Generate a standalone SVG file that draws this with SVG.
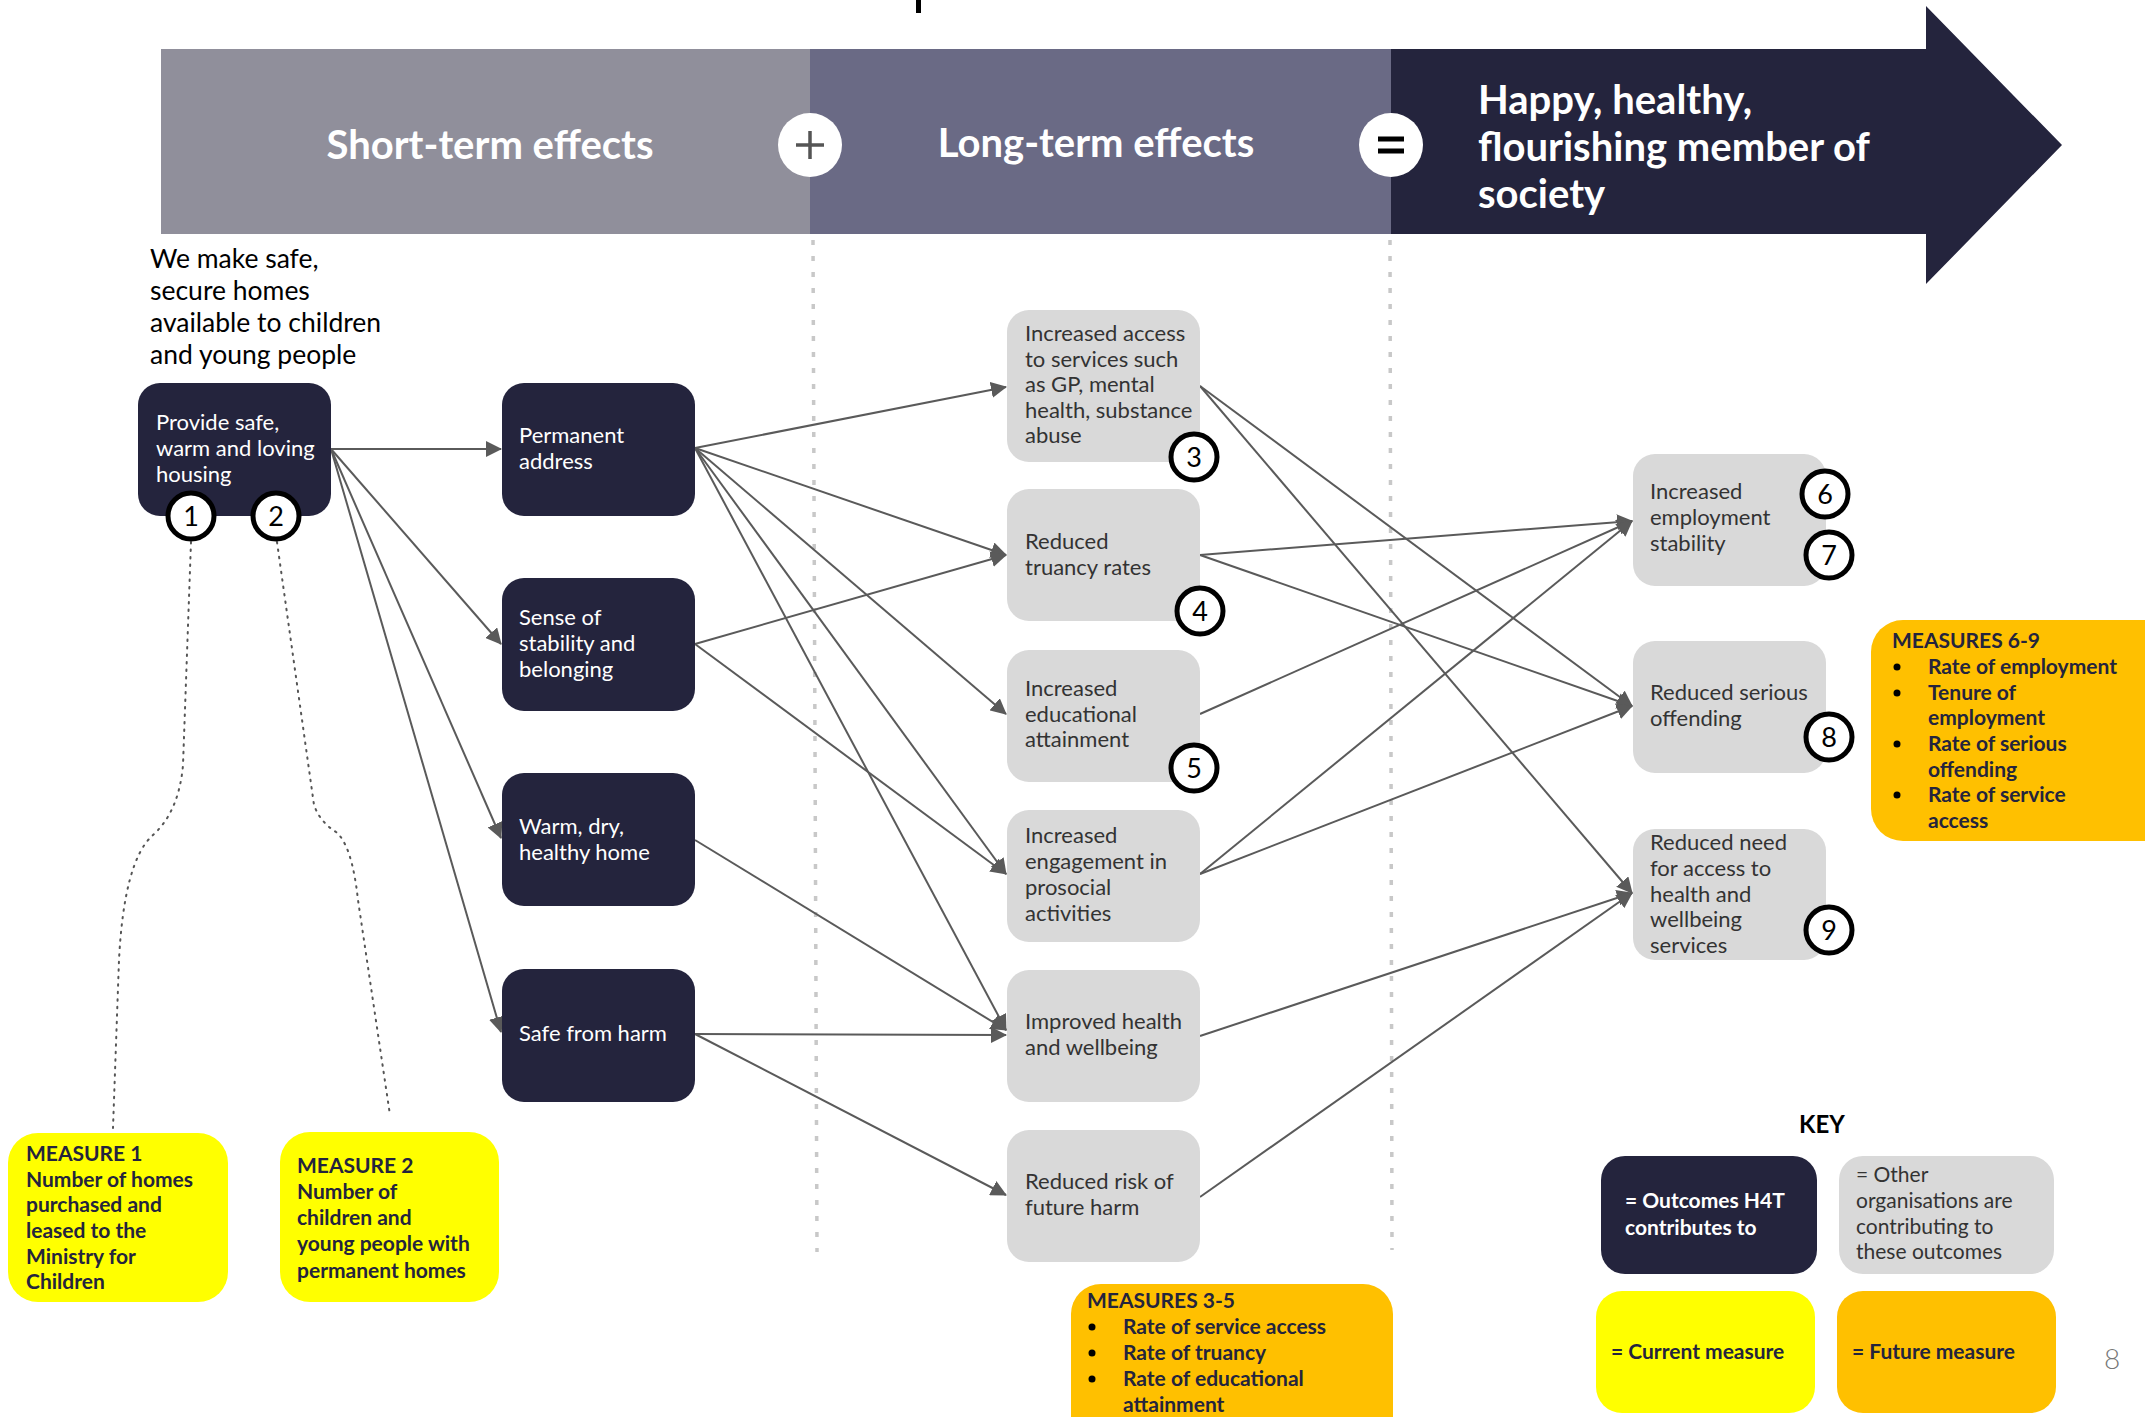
<svg xmlns="http://www.w3.org/2000/svg" width="2145" height="1417" viewBox="0 0 2145 1417">
<style>
.dk{fill:#24243d}
.gr{fill:#d9d9d9}
.ye{fill:#ffff00}
.or{fill:#ffc000}
.t{font-family:Lato,"Liberation Sans",sans-serif;font-size:22px}
.tw{fill:#ffffff}
.tg{fill:#333333}
.tb{font-family:Lato,"Liberation Sans",sans-serif;font-size:21px;font-weight:bold;fill:#24243d}
.hd{font-family:Lato,"Liberation Sans",sans-serif;font-size:40px;font-weight:bold;fill:#ffffff}
.num{font-family:Lato,"Liberation Sans",sans-serif;font-size:27px;fill:#000000;text-anchor:middle}
.nc{fill:#ffffff;stroke:#000000;stroke-width:5}
.cn{fill:none;stroke:#5a5a5a;stroke-width:2;marker-end:url(#ah)}
.sep{fill:none;stroke:#c8c8c8;stroke-width:3.5;stroke-dasharray:5 11}
.dot{fill:none;stroke:#555555;stroke-width:2;stroke-dasharray:1.5 6;stroke-linecap:round}
.bul{fill:#000000}
.intro{font-family:Lato,"Liberation Sans",sans-serif;font-size:26.5px;fill:#000000}
</style>
<defs>
<marker id="ah" markerUnits="userSpaceOnUse" markerWidth="16" markerHeight="16" viewBox="0 0 16 16" refX="15" refY="8" orient="auto">
<path d="M0,0 L16,8 L0,16 z" fill="#5a5a5a"/>
</marker>
</defs>
<rect x="0" y="0" width="2145" height="1417" fill="#ffffff"/>
<rect x="916" y="0" width="5" height="13" fill="#000000"/>

<g id="banner">
<rect x="161" y="49" width="650" height="185" fill="#908f9b"/>
<rect x="810" y="49" width="582" height="185" fill="#6a6a85"/>
<path d="M1391,49 L1926,49 L1926,6 L2062,145 L1926,284 L1926,234 L1391,234 z" fill="#24243d"/>
<text class="hd" x="490" y="159" text-anchor="middle">Short-term effects</text>
<text class="hd" x="1096" y="157" text-anchor="middle">Long-term effects</text>
<text class="hd" x="1478" y="114">Happy, healthy,</text>
<text class="hd" x="1478" y="161">flourishing member of</text>
<text class="hd" x="1478" y="208">society</text>
<circle cx="810" cy="145" r="32" fill="#ffffff"/>
<path d="M796,145 H824 M810,131 V159" stroke="#555555" stroke-width="3.5"/>
<circle cx="1391" cy="145" r="32" fill="#ffffff"/>
<path d="M1378,139 H1404 M1378,151 H1404" stroke="#000000" stroke-width="5"/>
</g>

<g id="separators">
<path class="sep" d="M813,240 L817,1252"/>
<path class="sep" d="M1390,240 L1392,1250"/>
</g>

<g id="intro">
<text class="intro" x="150" y="268">We make safe,</text>
<text class="intro" x="150" y="300">secure homes</text>
<text class="intro" x="150" y="332">available to children</text>
<text class="intro" x="150" y="364">and young people</text>
</g>

<g id="connectors">
<path class="dot" d="M191,542 L183,765 Q179,812 152,836 Q124,862 119,960 L113,1128"/>
<path class="dot" d="M277,542 L314,805 Q320,822 336,832 Q352,845 358,900 L390,1115"/>
<line class="cn" x1="331" y1="449" x2="501" y2="449"/>
<line class="cn" x1="331" y1="449" x2="501" y2="644"/>
<line class="cn" x1="331" y1="449" x2="501" y2="838"/>
<line class="cn" x1="331" y1="449" x2="501" y2="1032"/>
<line class="cn" x1="695" y1="448" x2="1006" y2="387"/>
<line class="cn" x1="695" y1="448" x2="1006" y2="555"/>
<line class="cn" x1="695" y1="448" x2="1006" y2="714"/>
<line class="cn" x1="695" y1="448" x2="1006" y2="874"/>
<line class="cn" x1="695" y1="448" x2="1006" y2="1030"/>
<line class="cn" x1="695" y1="644" x2="1006" y2="555"/>
<line class="cn" x1="695" y1="644" x2="1006" y2="874"/>
<line class="cn" x1="695" y1="840" x2="1006" y2="1030"/>
<line class="cn" x1="695" y1="1034" x2="1006" y2="1035"/>
<line class="cn" x1="695" y1="1034" x2="1006" y2="1195"/>
<line class="cn" x1="1200" y1="386" x2="1632" y2="706"/>
<line class="cn" x1="1200" y1="386" x2="1632" y2="893"/>
<line class="cn" x1="1200" y1="555" x2="1632" y2="521"/>
<line class="cn" x1="1200" y1="555" x2="1632" y2="706"/>
<line class="cn" x1="1200" y1="714" x2="1632" y2="521"/>
<line class="cn" x1="1200" y1="874" x2="1632" y2="521"/>
<line class="cn" x1="1200" y1="874" x2="1632" y2="706"/>
<line class="cn" x1="1200" y1="1036" x2="1632" y2="893"/>
<line class="cn" x1="1200" y1="1197" x2="1632" y2="893"/>
</g>

<g id="provide">
<rect class="dk" x="138" y="383" width="193" height="133" rx="22"/>
<text class="t tw" x="156" y="430">Provide safe,</text>
<text class="t tw" x="156" y="456">warm and loving</text>
<text class="t tw" x="156" y="482">housing</text>
<circle class="nc" cx="191" cy="516" r="23"/>
<text class="num" x="191" y="526">1</text>
<circle class="nc" cx="276" cy="516" r="23"/>
<text class="num" x="276" y="526">2</text>
</g>

<g id="permanent">
<rect class="dk" x="502" y="383" width="193" height="133" rx="22"/>
<text class="t tw" x="519" y="443">Permanent</text>
<text class="t tw" x="519" y="469">address</text>
</g>
<g id="sense">
<rect class="dk" x="502" y="578" width="193" height="133" rx="22"/>
<text class="t tw" x="519" y="625">Sense of</text>
<text class="t tw" x="519" y="651">stability and</text>
<text class="t tw" x="519" y="677">belonging</text>
</g>
<g id="warm">
<rect class="dk" x="502" y="773" width="193" height="133" rx="22"/>
<text class="t tw" x="519" y="834">Warm, dry,</text>
<text class="t tw" x="519" y="860">healthy home</text>
</g>
<g id="safe">
<rect class="dk" x="502" y="969" width="193" height="133" rx="22"/>
<text class="t tw" x="519" y="1041">Safe from harm</text>
</g>

<g id="access">
<rect class="gr" x="1007" y="310" width="193" height="152" rx="22"/>
<text class="t tg" x="1025" y="341">Increased access</text>
<text class="t tg" x="1025" y="367">to services such</text>
<text class="t tg" x="1025" y="392">as GP, mental</text>
<text class="t tg" x="1025" y="418">health, substance</text>
<text class="t tg" x="1025" y="443">abuse</text>
<circle class="nc" cx="1194" cy="457" r="23"/>
<text class="num" x="1194" y="467">3</text>
</g>
<g id="truancy">
<rect class="gr" x="1007" y="489" width="193" height="132" rx="22"/>
<text class="t tg" x="1025" y="549">Reduced</text>
<text class="t tg" x="1025" y="575">truancy rates</text>
<circle class="nc" cx="1200" cy="611" r="23"/>
<text class="num" x="1200" y="621">4</text>
</g>
<g id="educational">
<rect class="gr" x="1007" y="650" width="193" height="132" rx="22"/>
<text class="t tg" x="1025" y="696">Increased</text>
<text class="t tg" x="1025" y="722">educational</text>
<text class="t tg" x="1025" y="747">attainment</text>
<circle class="nc" cx="1194" cy="768" r="23"/>
<text class="num" x="1194" y="778">5</text>
</g>
<g id="engagement">
<rect class="gr" x="1007" y="810" width="193" height="132" rx="22"/>
<text class="t tg" x="1025" y="843">Increased</text>
<text class="t tg" x="1025" y="869">engagement in</text>
<text class="t tg" x="1025" y="895">prosocial</text>
<text class="t tg" x="1025" y="921">activities</text>
</g>
<g id="health">
<rect class="gr" x="1007" y="970" width="193" height="132" rx="22"/>
<text class="t tg" x="1025" y="1029">Improved health</text>
<text class="t tg" x="1025" y="1055">and wellbeing</text>
</g>
<g id="risk">
<rect class="gr" x="1007" y="1130" width="193" height="132" rx="22"/>
<text class="t tg" x="1025" y="1189">Reduced risk of</text>
<text class="t tg" x="1025" y="1215">future harm</text>
</g>

<g id="employment">
<rect class="gr" x="1633" y="454" width="193" height="132" rx="22"/>
<text class="t tg" x="1650" y="499">Increased</text>
<text class="t tg" x="1650" y="525">employment</text>
<text class="t tg" x="1650" y="551">stability</text>
<circle class="nc" cx="1825" cy="494" r="23"/>
<text class="num" x="1825" y="504">6</text>
<circle class="nc" cx="1829" cy="555" r="23"/>
<text class="num" x="1829" y="565">7</text>
</g>
<g id="offending">
<rect class="gr" x="1633" y="641" width="193" height="132" rx="22"/>
<text class="t tg" x="1650" y="700">Reduced serious</text>
<text class="t tg" x="1650" y="726">offending</text>
<circle class="nc" cx="1829" cy="737" r="23"/>
<text class="num" x="1829" y="747">8</text>
</g>
<g id="need">
<rect class="gr" x="1633" y="829" width="193" height="131" rx="22"/>
<text class="t tg" x="1650" y="850">Reduced need</text>
<text class="t tg" x="1650" y="876">for access to</text>
<text class="t tg" x="1650" y="902">health and</text>
<text class="t tg" x="1650" y="927">wellbeing</text>
<text class="t tg" x="1650" y="953">services</text>
<circle class="nc" cx="1829" cy="930" r="23"/>
<text class="num" x="1829" y="940">9</text>
</g>

<g id="measure1">
<rect class="ye" x="8" y="1133" width="220" height="169" rx="30"/>
<text class="tb" x="26" y="1161">MEASURE 1</text>
<text class="tb" x="26" y="1187">Number of homes</text>
<text class="tb" x="26" y="1212">purchased and</text>
<text class="tb" x="26" y="1238">leased to the</text>
<text class="tb" x="26" y="1264">Ministry for</text>
<text class="tb" x="26" y="1289">Children</text>
</g>
<g id="measure2">
<rect class="ye" x="280" y="1132" width="219" height="170" rx="30"/>
<text class="tb" x="297" y="1173">MEASURE 2</text>
<text class="tb" x="297" y="1199">Number of</text>
<text class="tb" x="297" y="1225">children and</text>
<text class="tb" x="297" y="1251">young people with</text>
<text class="tb" x="297" y="1278">permanent homes</text>
</g>
<g id="measures35">
<rect class="or" x="1071" y="1284" width="322" height="170" rx="30"/>
<text class="tb" x="1087" y="1308">MEASURES 3-5</text>
<circle class="bul" cx="1092" cy="1327" r="3.5"/>
<text class="tb" x="1123" y="1334">Rate of service access</text>
<circle class="bul" cx="1092" cy="1353" r="3.5"/>
<text class="tb" x="1123" y="1360">Rate of truancy</text>
<circle class="bul" cx="1092" cy="1379" r="3.5"/>
<text class="tb" x="1123" y="1386">Rate of educational</text>
<text class="tb" x="1123" y="1412">attainment</text>
</g>
<g id="measures69">
<rect class="or" x="1871" y="620" width="320" height="221" rx="32"/>
<text class="tb" x="1892" y="648">MEASURES 6-9</text>
<circle class="bul" cx="1897" cy="667" r="3.5"/>
<text class="tb" x="1928" y="674">Rate of employment</text>
<circle class="bul" cx="1897" cy="693" r="3.5"/>
<text class="tb" x="1928" y="700">Tenure of</text>
<text class="tb" x="1928" y="725">employment</text>
<circle class="bul" cx="1897" cy="744" r="3.5"/>
<text class="tb" x="1928" y="751">Rate of serious</text>
<text class="tb" x="1928" y="777">offending</text>
<circle class="bul" cx="1897" cy="795" r="3.5"/>
<text class="tb" x="1928" y="802">Rate of service</text>
<text class="tb" x="1928" y="828">access</text>
</g>

<g id="key">
<text x="1822" y="1133" text-anchor="middle" font-family="Lato,'Liberation Sans',sans-serif" font-size="24" font-weight="bold" fill="#000000">KEY</text>
<rect class="dk" x="1601" y="1156" width="216" height="118" rx="24"/>
<text class="tb" x="1625" y="1208" style="fill:#ffffff">= Outcomes H4T</text>
<text class="tb" x="1625" y="1235" style="fill:#ffffff">contributes to</text>
<rect class="gr" x="1839" y="1156" width="215" height="118" rx="24"/>
<text class="t tg" x="1856" y="1182" style="font-size:21px">= Other</text>
<text class="t tg" x="1856" y="1208" style="font-size:21px">organisations are</text>
<text class="t tg" x="1856" y="1234" style="font-size:21px">contributing to</text>
<text class="t tg" x="1856" y="1259" style="font-size:21px">these outcomes</text>
<rect class="ye" x="1596" y="1291" width="219" height="122" rx="26"/>
<text class="tb" x="1611" y="1359">= Current measure</text>
<rect class="or" x="1837" y="1291" width="219" height="122" rx="26"/>
<text class="tb" x="1852" y="1359">= Future measure</text>
</g>
<text x="2112" y="1369" text-anchor="middle" font-family="Lato,'Liberation Sans',sans-serif" font-size="28" font-weight="300" fill="#777777">8</text>
</svg>
